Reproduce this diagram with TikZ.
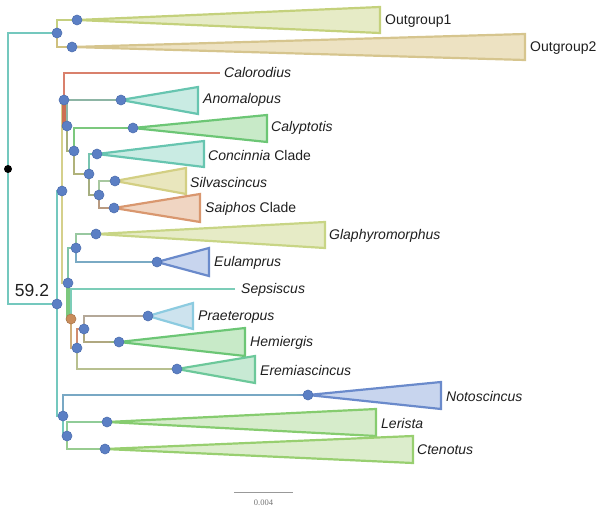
\documentclass[tikz,border=0pt]{standalone}
\usepackage{fontspec}
\setmainfont{Liberation Sans}
\newfontfamily\scalefont{Liberation Serif}
\definecolor{dotblue}{HTML}{5B7FC4}
\definecolor{dotedge}{HTML}{4F70B0}
\definecolor{dotbrown}{HTML}{C98D5C}
\definecolor{cteal}{HTML}{74C8BE}
\definecolor{cyg}{HTML}{C5CF80}
\definecolor{ctan}{HTML}{CFC07E}
\definecolor{cyel}{HTML}{D5D08C}
\definecolor{cred}{HTML}{D9806C}
\definecolor{credd}{HTML}{CC6E52}
\definecolor{cano}{HTML}{8DB5A5}
\definecolor{colive}{HTML}{A8B07A}
\definecolor{cgreen}{HTML}{7CC87E}
\definecolor{colive2}{HTML}{B0B27A}
\definecolor{ccon}{HTML}{78C4B0}
\definecolor{cgrey}{HTML}{A6AE80}
\definecolor{csil}{HTML}{A8C8A0}
\definecolor{csai}{HTML}{B89A80}
\definecolor{ctg}{HTML}{80C4A8}
\definecolor{cgla}{HTML}{98C8A0}
\definecolor{ceul}{HTML}{7AAAC4}
\definecolor{csep}{HTML}{7CCDB8}
\definecolor{cbt}{HTML}{D0AE7A}
\definecolor{cbr}{HTML}{D08C6E}
\definecolor{cere}{HTML}{B8C090}
\definecolor{cpra}{HTML}{B4A898}
\definecolor{chem}{HTML}{B0A880}
\definecolor{cnot}{HTML}{78A8C4}
\definecolor{cler}{HTML}{90CC98}
\definecolor{ccte}{HTML}{98CC90}
% triangle colours
\definecolor{fOa}{HTML}{E6EBC6}\definecolor{dOa}{HTML}{C4D17C}
\definecolor{fOb}{HTML}{EDE2C2}\definecolor{dOb}{HTML}{D6C58E}
\definecolor{fTeal}{HTML}{C9EBE3}\definecolor{dTeal}{HTML}{67C5B0}
\definecolor{fGreen}{HTML}{C8EAC8}\definecolor{dGreen}{HTML}{6CC675}
\definecolor{fSil}{HTML}{E9E6BD}\definecolor{dSil}{HTML}{D3CF83}
\definecolor{fSai}{HTML}{F0D5C2}\definecolor{dSai}{HTML}{D9976F}
\definecolor{fGla}{HTML}{E6EBC6}\definecolor{dGla}{HTML}{C8D585}
\definecolor{fBlue}{HTML}{C8D5EE}\definecolor{dBlue}{HTML}{6A8ACB}
\definecolor{fPra}{HTML}{CDE3EE}\definecolor{dPra}{HTML}{8CCBE0}
\definecolor{fEre}{HTML}{C8EAD4}\definecolor{dEre}{HTML}{6CC89A}
\definecolor{fLer}{HTML}{D6ECCB}\definecolor{dLer}{HTML}{86CC6F}
\definecolor{fCte}{HTML}{DCEDCC}\definecolor{dCte}{HTML}{98CF70}
\begin{document}
\begin{tikzpicture}[x=1pt,y=-1pt,
  br/.style={line width=2.6pt},
  brthick/.style={line width=4pt},
  dotn/.style={circle,fill=dotblue,draw=dotedge,line width=0.6pt,inner sep=0pt,minimum size=10pt},
  tri/.style={line width=2.2pt,line join=miter},
  lab/.style={anchor=west,inner sep=0pt,font=\fontsize{14}{16}\selectfont\itshape,text=black!88},
  labup/.style={anchor=west,inner sep=0pt,font=\fontsize{14}{16}\selectfont,text=black!88},
]
\useasboundingbox (0,0) rectangle (597,513);
% internal nodes
\coordinate (root) at (8,169);
\coordinate (og) at (57,33);
\coordinate (ing) at (57,304);
\coordinate (n0) at (62,191);
\coordinate (n1) at (64,100);
\coordinate (n2) at (67,126);
\coordinate (n3) at (74,151);
\coordinate (n4) at (89,174);
\coordinate (n5) at (99,195);
\coordinate (n6) at (68,283);
\coordinate (n7) at (76,248);
\coordinate (nb) at (71,319);
\coordinate (n9) at (77,348);
\coordinate (n8) at (84,329);
\coordinate (n10) at (63,416);
\coordinate (n11) at (67,436);
% tips
\coordinate (tog1) at (77,20);
\coordinate (tog2) at (72,47);
\coordinate (tcalo) at (220,73);
\coordinate (tano) at (121,100);
\coordinate (tcal) at (133,128);
\coordinate (tcon) at (97,154);
\coordinate (tsil) at (115,181);
\coordinate (tsai) at (114,208);
\coordinate (tgla) at (96,234);
\coordinate (teul) at (157,262);
\coordinate (tsep) at (235,289);
\coordinate (tpra) at (148,316);
\coordinate (them) at (119,342);
\coordinate (tere) at (177,369);
\coordinate (tnot) at (308,395);
\coordinate (tler) at (107,422);
\coordinate (tcte) at (105,449);

% branches
\draw[br,cteal] (root) |- (og);
\draw[br,cteal] (root) |- (ing);
\draw[br,cyg] (og) |- (tog1);
\draw[br,ctan] (og) |- (tog2);
\draw[br,cteal] (ing) |- (n0);
\draw[br,cteal] (ing) |- (n10);
\draw[br,cyel] (n0) |- (n1);
\draw[br,cyel] (n0) |- (n6);
\draw[br,cred] (n1) |- (tcalo);
\draw[brthick,credd] (n1) |- (n2);
\draw[br,cano] (n2) |- (tano);
\draw[br,colive] (n2) |- (n3);
\draw[br,cgreen] (n3) |- (tcal);
\draw[br,colive2] (n3) |- (n4);
\draw[br,ccon] (n4) |- (tcon);
\draw[br,cgrey] (n4) |- (n5);
\draw[br,csil] (n5) |- (tsil);
\draw[br,csai] (n5) |- (tsai);
\draw[br,ctg] (n6) |- (n7);
\draw[brthick,cgreen] (n6) |- (nb);
\draw[br,cgla] (n7) |- (tgla);
\draw[br,ceul] (n7) |- (teul);
\draw[br,csep] (nb) |- (tsep);
\draw[br,cbt] (nb) |- (n9);
\draw[br,cbr] (n9) |- (n8);
\draw[br,cere] (n9) |- (tere);
\draw[br,cpra] (n8) |- (tpra);
\draw[br,chem] (n8) |- (them);
\draw[br,cnot] (n10) |- (tnot);
\draw[br,cteal] (n10) |- (n11);
\draw[br,cler] (n11) |- (tler);
\draw[br,ccte] (n11) |- (tcte);

% collapsed clades
\draw[tri,draw=dOa,fill=fOa] (tog1) -- (380,7) -- (380,33) -- cycle;
\draw[tri,draw=dOb,fill=fOb] (tog2) -- (525,34) -- (525,60) -- cycle;
\draw[tri,draw=dTeal,fill=fTeal] (tano) -- (198,87) -- (198,114) -- cycle;
\draw[tri,draw=dGreen,fill=fGreen] (tcal) -- (267,115) -- (267,142) -- cycle;
\draw[tri,draw=dTeal,fill=fTeal] (tcon) -- (204,141) -- (204,167) -- cycle;
\draw[tri,draw=dSil,fill=fSil] (tsil) -- (186,168) -- (186,194) -- cycle;
\draw[tri,draw=dSai,fill=fSai] (tsai) -- (200,194) -- (200,222) -- cycle;
\draw[tri,draw=dGla,fill=fGla] (tgla) -- (325,222) -- (325,248) -- cycle;
\draw[tri,draw=dBlue,fill=fBlue] (teul) -- (209,248) -- (209,276) -- cycle;
\draw[tri,draw=dPra,fill=fPra] (tpra) -- (193,303) -- (193,329) -- cycle;
\draw[tri,draw=dGreen,fill=fGreen] (them) -- (245,328) -- (245,356) -- cycle;
\draw[tri,draw=dEre,fill=fEre] (tere) -- (255,356) -- (255,383) -- cycle;
\draw[tri,draw=dBlue,fill=fBlue] (tnot) -- (441,382) -- (441,409) -- cycle;
\draw[tri,draw=dLer,fill=fLer] (tler) -- (376,409) -- (376,436) -- cycle;
\draw[tri,draw=dCte,fill=fCte] (tcte) -- (413,436) -- (413,463) -- cycle;

% node dots
\node[circle,fill=black,inner sep=0pt,minimum size=8pt] (droot) at (root) {};
\node[dotn] (dog) at (og) {};
\node[dotn] (ding) at (ing) {};
\node[dotn] (dn0) at (n0) {};
\node[dotn] (dn1) at (n1) {};
\node[dotn] (dn2) at (n2) {};
\node[dotn] (dn3) at (n3) {};
\node[dotn] (dn4) at (n4) {};
\node[dotn] (dn5) at (n5) {};
\node[dotn] (dn6) at (n6) {};
\node[dotn] (dn7) at (n7) {};
\node[dotn,fill=dotbrown,draw=dotbrown!85!black] (dnb) at (nb) {};
\node[dotn] (dn9) at (n9) {};
\node[dotn] (dn8) at (n8) {};
\node[dotn] (dn10) at (n10) {};
\node[dotn] (dn11) at (n11) {};
\node[dotn] (dtog1) at (tog1) {};
\node[dotn] (dtog2) at (tog2) {};
\node[dotn] (dtano) at (tano) {};
\node[dotn] (dtcal) at (tcal) {};
\node[dotn] (dtcon) at (tcon) {};
\node[dotn] (dtsil) at (tsil) {};
\node[dotn] (dtsai) at (tsai) {};
\node[dotn] (dtgla) at (tgla) {};
\node[dotn] (dteul) at (teul) {};
\node[dotn] (dtpra) at (tpra) {};
\node[dotn] (dthem) at (them) {};
\node[dotn] (dtere) at (tere) {};
\node[dotn] (dtnot) at (tnot) {};
\node[dotn] (dtler) at (tler) {};
\node[dotn] (dtcte) at (tcte) {};

% labels
\node[labup] (lOa) at (385,21) {Outgroup1};
\node[labup] (lOb) at (530,48) {Outgroup2};
\node[lab] (lcalo) at (224,73) {Calorodius};
\node[lab] (lano) at (203,100) {Anomalopus};
\node[lab] (lcal) at (271,128) {Calyptotis};
\node[labup] (lcon) at (208,155) {\textit{Concinnia} Clade};
\node[lab] (lsil) at (190,182) {Silvascincus};
\node[labup] (lsai) at (205,209) {\textit{Saiphos} Clade};
\node[lab] (lgla) at (329,236) {Glaphyromorphus};
\node[lab] (leul) at (214,263) {Eulamprus};
\node[lab] (lsep) at (241,290) {Sepsiscus};
\node[lab] (lpra) at (198,317) {Praeteropus};
\node[lab] (lhem) at (250,343) {Hemiergis};
\node[lab] (lere) at (260,370) {Eremiascincus};
\node[lab] (lnot) at (446,396) {Notoscincus};
\node[lab] (ller) at (381,423) {Lerista};
\node[lab] (lcte) at (417,450) {Ctenotus};
\node[anchor=center,inner sep=0pt,font=\fontsize{17.5}{20}\selectfont,text=black!88] (lsup) at (32,290) {59.2};
% scale bar
\coordinate (sbl) at (234,492);
\coordinate (sbr) at (293,492);
\draw[line width=1pt,black!40] (sbl) -- (sbr);
\node[inner sep=0pt,font=\scalefont\fontsize{8.5}{10}\selectfont,text=black!55] (lsb) at (263.5,503) {0.004};
\end{tikzpicture}
\end{document}
